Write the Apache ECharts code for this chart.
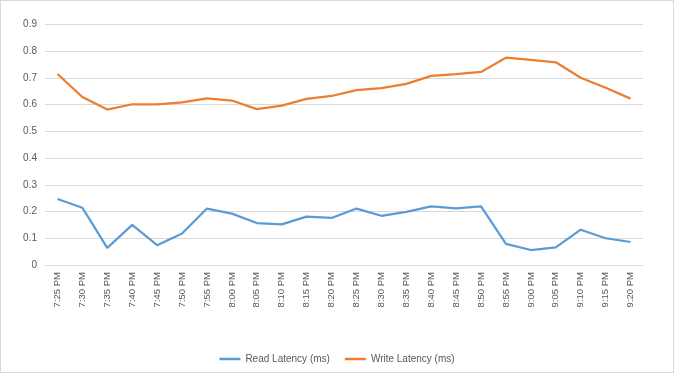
<!DOCTYPE html>
<html>
<head>
<meta charset="utf-8">
<script src="https://cdn.jsdelivr.net/npm/echarts@6/dist/echarts.min.js"></script>
<style>
html,body{margin:0;padding:0;background:#fff;}
#wrap{position:relative;width:674px;height:373px;}
#chart{width:674px;height:373px;}
#frame{position:absolute;left:0;top:0;width:674px;height:373px;box-sizing:border-box;border:1px solid #d9d9d9;pointer-events:none;}
</style>
</head>
<body>
<div id="wrap"><div id="chart"></div><div id="frame"></div></div>
<script>
var categories = ['7:25 PM','7:30 PM','7:35 PM','7:40 PM','7:45 PM','7:50 PM','7:55 PM','8:00 PM','8:05 PM','8:10 PM','8:15 PM','8:20 PM','8:25 PM','8:30 PM','8:35 PM','8:40 PM','8:45 PM','8:50 PM','8:55 PM','9:00 PM','9:05 PM','9:10 PM','9:15 PM','9:20 PM'];
var readLatency = [0.247,0.214,0.064,0.150,0.074,0.118,0.211,0.192,0.157,0.152,0.181,0.176,0.211,0.184,0.199,0.219,0.212,0.219,0.079,0.056,0.066,0.132,0.100,0.086];
var writeLatency = [0.714,0.628,0.581,0.601,0.601,0.608,0.623,0.615,0.583,0.596,0.621,0.632,0.654,0.661,0.677,0.707,0.714,0.722,0.775,0.767,0.758,0.700,0.663,0.622];
var seriesNames = ['Read Latency (ms)','Write Latency (ms)'];
var yTicks = {min:0, max:0.9, interval:0.1};

var FONT = "'Liberation Sans Narrow','Liberation Sans',sans-serif";
var chart = echarts.init(document.getElementById('chart'), null, {renderer:'canvas'});
chart.setOption({
  animation:false,
  backgroundColor:'#ffffff',
  grid:{left:45, right:31, top:24.3, bottom:108, containLabel:false},
  legend:{
    data:seriesNames, bottom:4, left:'center', itemWidth:21, itemHeight:2.5, itemGap:15,
    icon:'rect',
    textStyle:{color:'#595959', fontSize:10, fontFamily:FONT}
  },
  xAxis:{
    type:'category', data:categories, boundaryGap:true,
    axisLine:{lineStyle:{color:'#d9d9d9', width:1}},
    axisTick:{show:false},
    axisLabel:{rotate:90, interval:0, margin:7, color:'#595959', fontSize:9.5, fontFamily:FONT}
  },
  yAxis:{
    type:'value', min:yTicks.min, max:yTicks.max, interval:yTicks.interval,
    axisLine:{show:false}, axisTick:{show:false},
    splitLine:{lineStyle:{color:'#d9d9d9', width:1}},
    axisLabel:{margin:8, color:'#595959', fontSize:10, fontFamily:FONT}
  },
  series:[
    {name:seriesNames[0], type:'line', data:readLatency, symbol:'none', lineStyle:{color:'#5b9bd5', width:2.25}, itemStyle:{color:'#5b9bd5'}},
    {name:seriesNames[1], type:'line', data:writeLatency, symbol:'none', lineStyle:{color:'#ed7d31', width:2.25}, itemStyle:{color:'#ed7d31'}}
  ]
});
</script>
</body>
</html>
